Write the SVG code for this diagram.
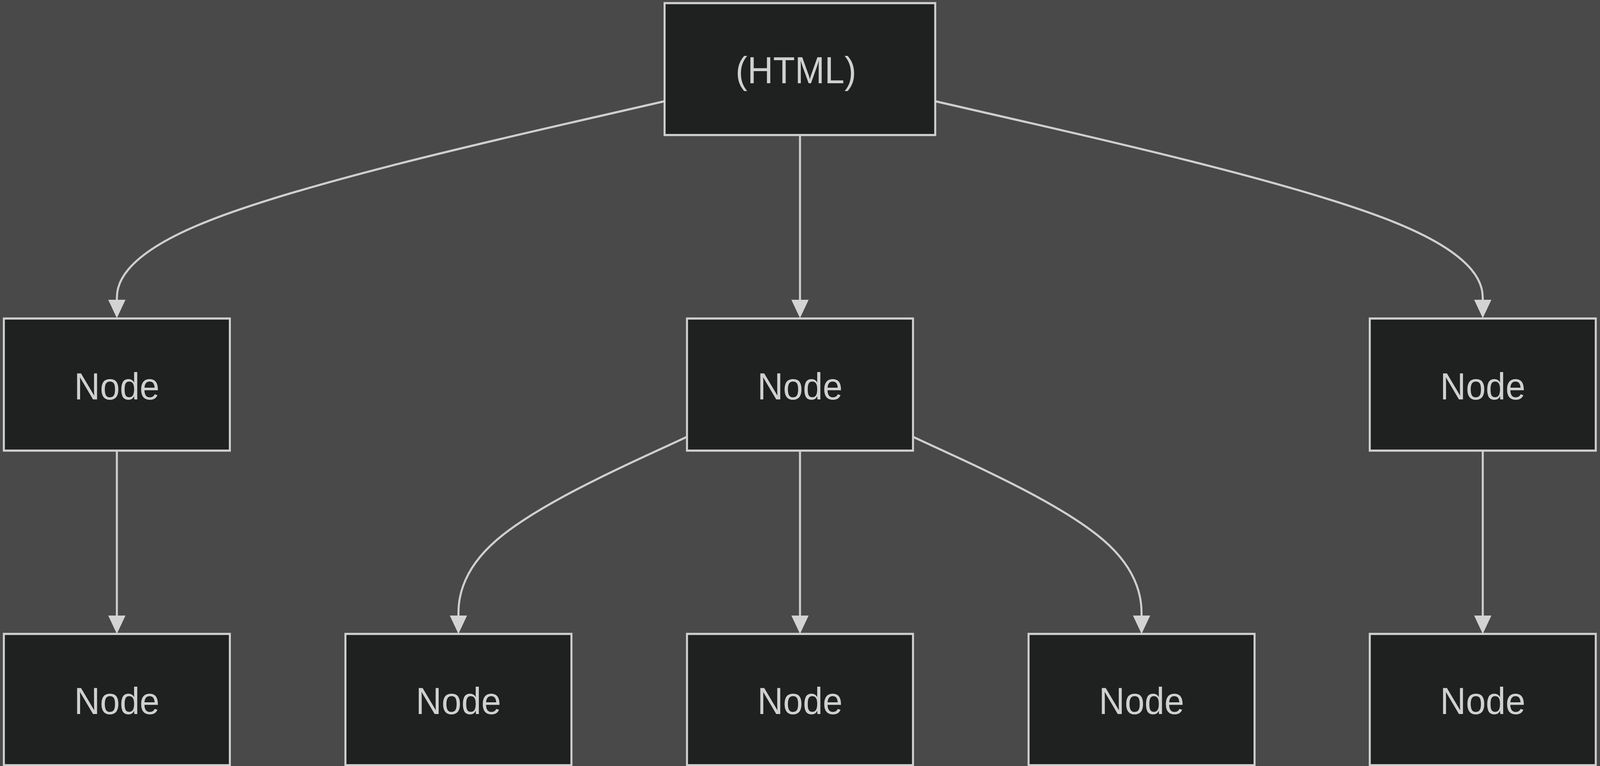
<svg xmlns="http://www.w3.org/2000/svg" width="4354" height="1960" viewBox="0 0 4354 1960">
<style>
.bg{fill:#484948}
.node rect{fill:#1f2020;stroke:#cfcfcf;stroke-width:5.5}
.node text{fill:#d0d0d0;font-family:"Liberation Sans",Arial,sans-serif;font-size:97px;text-anchor:middle}
.edge{fill:none;stroke:#cfcfcf;stroke-width:5.5}
</style>
<defs>
<marker id="arrow" viewBox="0 0 10 10" refX="0" refY="5" markerUnits="userSpaceOnUse" markerWidth="47" markerHeight="51" orient="auto">
<path d="M0,0 L10,5 L0,10 z" fill="#d3d3d3"/>
</marker>
</defs>
<rect class="bg" x="0" y="0" width="4354" height="1960"/>
<g id="diagram" transform="scale(0.94074 1)">
<g id="connectors">
<path class="edge" marker-end="url(#arrow)" d="M1808.5,259 L1560.1,312.5 C1311.7,366 814.8,472.8 566.4,565.6 C318,658.3 318,736.7 318,767"/>
<path class="edge" marker-end="url(#arrow)" d="M2177,345.5 L2177,767"/>
<path class="edge" marker-end="url(#arrow)" d="M2545,259 L2793.3,312.5 C3041.7,366 3538.3,472.8 3786.7,565.6 C4035,658.3 4035,736.7 4035,767"/>
<path class="edge" marker-end="url(#arrow)" d="M318,1153 L318,1575"/>
<path class="edge" marker-end="url(#arrow)" d="M1869.5,1117.7 L1765.8,1162.75 C1662.2,1207.8 1454.8,1297.9 1351.2,1382.1 C1247.5,1466.3 1247.5,1544.7 1247.5,1575"/>
<path class="edge" marker-end="url(#arrow)" d="M2177,1153 L2177,1575"/>
<path class="edge" marker-end="url(#arrow)" d="M2484.5,1117.7 L2588.2,1162.75 C2691.8,1207.8 2899.2,1297.9 3002.8,1382.1 C3106.5,1466.3 3106.5,1544.7 3106.5,1575"/>
<path class="edge" marker-end="url(#arrow)" d="M4035,1153 L4035,1575"/>
</g>
<g id="html" class="node"><rect x="1808.5" y="8" width="736.5" height="337.5"/><text x="2166" y="213">(HTML)</text></g>
<g id="node-l" class="node"><rect x="10.5" y="815" width="615" height="338"/><text x="318" y="1022">Node</text></g>
<g id="node-m" class="node"><rect x="1869.5" y="815" width="615" height="338"/><text x="2177" y="1022">Node</text></g>
<g id="node-r" class="node"><rect x="3727.5" y="815" width="615" height="338"/><text x="4035" y="1022">Node</text></g>
<g id="leaf-1" class="node"><rect x="10.5" y="1622" width="615" height="336"/><text x="318" y="1827">Node</text></g>
<g id="leaf-2" class="node"><rect x="940" y="1622" width="615" height="336"/><text x="1247.5" y="1827">Node</text></g>
<g id="leaf-3" class="node"><rect x="1869.5" y="1622" width="615" height="336"/><text x="2177" y="1827">Node</text></g>
<g id="leaf-4" class="node"><rect x="2799" y="1622" width="615" height="336"/><text x="3106.5" y="1827">Node</text></g>
<g id="leaf-5" class="node"><rect x="3727.5" y="1622" width="615" height="336"/><text x="4035" y="1827">Node</text></g>
</g>
</svg>
